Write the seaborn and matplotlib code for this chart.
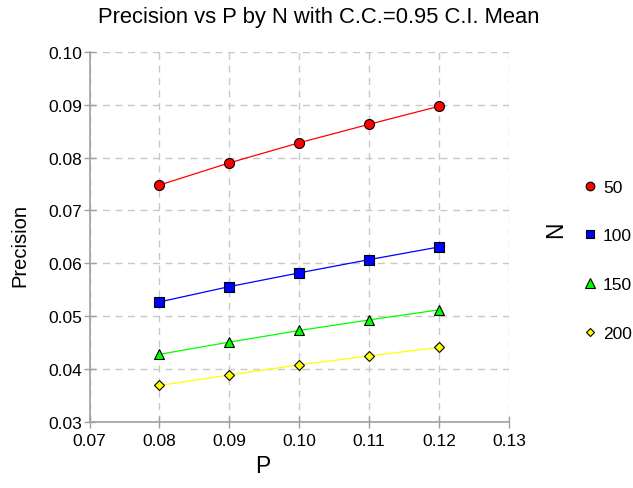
import pandas as pd
import matplotlib.pyplot as plt
import seaborn as sns
from matplotlib.lines import Line2D

# values
p_values = [0.08, 0.09, 0.10, 0.11, 0.12]
n_levels = [50, 100, 150, 200]
prec_n50 = [0.0748, 0.0790, 0.0828, 0.0863, 0.0897]
prec_n100 = [0.0527, 0.0556, 0.0582, 0.0607, 0.0631]
prec_n150 = [0.0428, 0.0451, 0.0473, 0.0493, 0.0512]
prec_n200 = [0.0369, 0.0389, 0.0408, 0.0425, 0.0441]

colors = ["#ff0000", "#0000ff", "#00ff00", "#ffff00"]
markers = ["o", "s", "^", "D"]
msizes = [7.2, 7.4, 7.6, 4.6]
leg_sizes = [6.2, 6.2, 6.6, 4.0]

rows = []
for n, vals in zip(n_levels, [prec_n50, prec_n100, prec_n150, prec_n200]):
    for p, v in zip(p_values, vals):
        rows.append({"P": p, "Precision": v, "N": str(n)})
df = pd.DataFrame(rows)

sns.set_theme(style="white", rc={"text.color": "black", "axes.labelcolor": "black"})
plt.rcParams["font.family"] = ["Liberation Sans", "DejaVu Sans"]

fig = plt.figure(figsize=(6.33, 4.89), dpi=100)
ax = fig.add_axes([0.1414, 0.135, 0.6627, 0.757])

for i, n in enumerate(n_levels):
    sub = df[df["N"] == str(n)]
    sns.lineplot(data=sub, x="P", y="Precision", color=colors[i], marker=markers[i],
                 markersize=msizes[i], markeredgecolor="black", markeredgewidth=0.8,
                 linewidth=0.9, ax=ax, legend=False)

ax.set_xlim(0.07, 0.13)
ax.set_ylim(0.03, 0.10)
ax.set_xticks([0.07, 0.08, 0.09, 0.10, 0.11, 0.12, 0.13])
ax.set_yticks([0.03, 0.04, 0.05, 0.06, 0.07, 0.08, 0.09, 0.10])
ax.xaxis.set_major_formatter(plt.FormatStrFormatter("%.2f"))
ax.yaxis.set_major_formatter(plt.FormatStrFormatter("%.2f"))
ax.grid(True, linestyle=(0, (5, 4)), color="#c8c8c8", linewidth=1)
ax.set_axisbelow(True)
for side in ["top", "right"]:
    ax.spines[side].set_visible(False)
for side in ["left", "bottom"]:
    ax.spines[side].set_color("#a0a0a0")
    ax.spines[side].set_linewidth(1.2)
ax.tick_params(axis="both", bottom=True, left=True, direction="inout", length=8, width=1,
               color="#a0a0a0", labelsize=12.5, labelcolor="black")
ax.tick_params(axis="y", pad=1.5)
ax.tick_params(axis="x", pad=4)

ax.set_xlabel("P", fontsize=16.5)
ax.xaxis.set_label_coords(0.414, -0.086)
ax.xaxis.label.set_va("top")
ax.set_ylabel("Precision", fontsize=14.5)
ax.yaxis.set_label_coords(-0.144, 0.48)
fig.text(0.504, 0.965, "Precision vs P by N with C.C.=0.95 C.I. Mean",
         fontsize=15.8, ha="center", va="center")

handles = [Line2D([], [], linestyle="none", marker=m, color=c, markeredgecolor="black",
                  markeredgewidth=0.8, markersize=s)
           for m, c, s in zip(markers, colors, leg_sizes)]
ax.legend(handles, [str(n) for n in n_levels], loc="center left",
          bbox_to_anchor=(1.181, 0.437), frameon=False, fontsize=12.5,
          borderaxespad=0, borderpad=0, labelspacing=1.93,
          handlelength=0.6, handletextpad=0.44)
fig.text(0.877, 0.53, "N", rotation=90, fontsize=16.5, ha="center", va="center")

fig.savefig("out.png", dpi=100)
